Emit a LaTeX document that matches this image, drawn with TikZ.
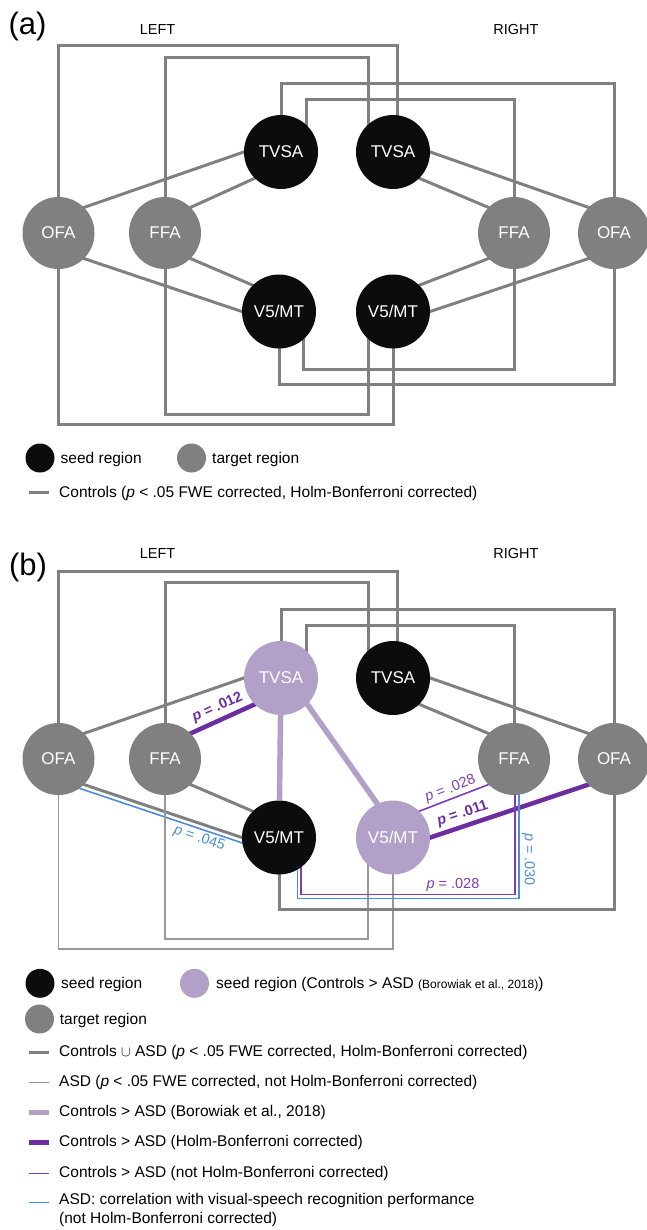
\documentclass[tikz,border=0pt]{standalone}
\usepackage{fontspec}
\setmainfont{Liberation Sans}
\usetikzlibrary{calc,backgrounds}

\definecolor{seedblack}{RGB}{12,12,12}
\definecolor{targetgray}{RGB}{128,128,128}
\definecolor{lavender}{RGB}{177,160,200}
\definecolor{edgegray}{RGB}{128,128,128}
\definecolor{asdgray}{RGB}{152,152,152}
\definecolor{hbpurple}{RGB}{108,45,160}
\definecolor{nhbpurple}{RGB}{125,60,185}
\definecolor{corrblue}{RGB}{75,142,215}

\tikzset{
  region/.style={circle, inner sep=0pt, text=white, font=\fontsize{17}{20}\selectfont},
  seedregion/.style={region, fill=seedblack, minimum size=74pt},
  lavregion/.style={region, fill=lavender, minimum size=74pt},
  targetregion/.style={region, fill=targetgray, minimum size=72pt},
  legdot/.style={circle, inner sep=0pt, minimum size=29pt},
  tuck/.style={shorten <=-3pt, shorten >=-3pt},
  ctrl/.style={draw=edgegray, line width=3pt},
  asd/.style={draw=asdgray, line width=1.6pt},
  borow/.style={draw=lavender, line width=5.5pt},
  hbline/.style={draw=hbpurple, line width=4.5pt},
  nhbline/.style={draw=nhbpurple, line width=1.6pt},
  corrline/.style={draw=corrblue, line width=1.6pt},
  side/.style={font=\fontsize{14.5}{17}\selectfont},
  panel/.style={font=\fontsize{31}{36}\selectfont},
  legtext/.style={anchor=west, inner sep=0pt, font=\fontsize{15.5}{18.4}\selectfont},
  plabel/.style={font=\fontsize{14.5}{16}\selectfont, inner sep=2pt},
}

\begin{document}
\begin{tikzpicture}[x=1pt,y=-1pt]
\useasboundingbox (0,0) rectangle (646,1230);

% ================= panel (a) =================
\node[panel] (aTag) at (27.5,26) {(a)};
\node[side] (aLeft) at (157.5,29.5) {LEFT};
\node[side] (aRight) at (516,29.5) {RIGHT};

\node[targetregion] (aOFAL) at (58.5,233) {OFA};
\node[targetregion] (aFFAL) at (165,233) {FFA};
\node[seedregion] (aTVSAL) at (281,152) {TVSA};
\node[seedregion] (aTVSAR) at (393,152) {TVSA};
\node[seedregion] (aV5L) at (279,311.5) {V5/MT};
\node[seedregion] (aV5R) at (393,311.5) {V5/MT};
\node[targetregion] (aFFAR) at (514,233) {FFA};
\node[targetregion] (aOFAR) at (614,233) {OFA};

% attachment points of the looping connectors
\coordinate (aTVSARo) at ($(aTVSAR.center)+(4,0)$);
\coordinate (aTVSARi) at ($(aTVSAR.center)+(-25,0)$);
\coordinate (aTVSALi) at ($(aTVSAL.center)+(25,0)$);
\coordinate (aV5Ri) at ($(aV5R.center)+(-25,0)$);
\coordinate (aV5Li) at ($(aV5L.center)+(24,0)$);
% heights of the horizontal runs
\coordinate (aT1) at (0,45.7);
\coordinate (aT2) at (0,57.3);
\coordinate (aT3) at (0,84);
\coordinate (aT4) at (0,99.3);
\coordinate (aB1) at (0,424);
\coordinate (aB2) at (0,414.3);
\coordinate (aB3) at (0,384.3);
\coordinate (aB4) at (0,369);

\begin{scope}[on background layer]
  \draw[ctrl,tuck] (aOFAL.45) -- (aTVSAL.west);
  \draw[ctrl,tuck] (aFFAL.45) -- (aTVSAL.-135);
  \draw[ctrl,tuck] (aOFAL.-45) -- (aV5L.west);
  \draw[ctrl,tuck] (aFFAL.-45) -- (aV5L.135);
  \draw[ctrl,tuck] (aTVSAR.east) -- (aOFAR.135);
  \draw[ctrl,tuck] (aTVSAR.-45) -- (aFFAR.135);
  \draw[ctrl,tuck] (aV5R.45) -- (aFFAR.-135);
  \draw[ctrl,tuck] (aV5R.east) -- (aOFAR.-135);
  \draw[ctrl] (aOFAL.center) |- (aTVSARo |- aT1) -- (aTVSARo);
  \draw[ctrl] (aFFAL.center) |- (aTVSARi |- aT2) -- (aTVSARi);
  \draw[ctrl] (aTVSAL.center) |- (aOFAR.center |- aT3) -- (aOFAR.center);
  \draw[ctrl] (aTVSALi) |- (aFFAR.center |- aT4) -- (aFFAR.center);
  \draw[ctrl] (aOFAL.center) |- (aV5R.center |- aB1) -- (aV5R.center);
  \draw[ctrl] (aFFAL.center) |- (aV5Ri |- aB2) -- (aV5Ri);
  \draw[ctrl] (aV5L.center) |- (aOFAR.center |- aB3) -- (aOFAR.center);
  \draw[ctrl] (aV5Li) |- (aFFAR.center |- aB4) -- (aFFAR.center);
\end{scope}

% key of panel (a)
\node[legdot, fill=seedblack] (aKeySeed) at (40,458) {};
\node[legtext] (aKeySeedTxt) at (60.5,459.5) {seed region};
\node[legdot, fill=targetgray] (aKeyTarget) at (191.5,458) {};
\node[legtext] (aKeyTargetTxt) at (212,459.5) {target region};
\coordinate (aKeyS1) at (28.5,492);
\coordinate (aKeyS2) at (49,492);
\draw[ctrl] (aKeyS1) -- (aKeyS2);
\node[legtext] (aKeyCtrl) at (59,493) {Controls (\textit{p} < .05 FWE corrected, Holm-Bonferroni corrected)};

% ================= panel (b) =================
\node[panel] (bTag) at (28,567.5) {(b)};
\node[side] (bLeft) at (157.5,554) {LEFT};
\node[side] (bRight) at (516,554) {RIGHT};

\node[targetregion] (bOFAL) at (58.5,759) {OFA};
\node[targetregion] (bFFAL) at (165,759) {FFA};
\node[lavregion] (bTVSAL) at (281,678) {TVSA};
\node[seedregion] (bTVSAR) at (393,678) {TVSA};
\node[seedregion] (bV5L) at (279,837.5) {V5/MT};
\node[lavregion] (bV5R) at (393,837.5) {V5/MT};
\node[targetregion] (bFFAR) at (514,759) {FFA};
\node[targetregion] (bOFAR) at (614,759) {OFA};

\coordinate (bTVSARo) at ($(bTVSAR.center)+(4,0)$);
\coordinate (bTVSARi) at ($(bTVSAR.center)+(-25,0)$);
\coordinate (bTVSALi) at ($(bTVSAL.center)+(25,0)$);
\coordinate (bV5Ri) at ($(bV5R.center)+(-25,0)$);
\coordinate (bV5Lp) at ($(bV5L.center)+(22,0)$);
\coordinate (bFFARp) at ($(bFFAR.center)+(1,0)$);
\coordinate (bV5Lc) at ($(bV5L.center)+(18.5,0)$);
\coordinate (bFFARc) at ($(bFFAR.center)+(5,0)$);
\coordinate (bT1) at (0,571.7);
\coordinate (bT2) at (0,582.5);
\coordinate (bT3) at (0,609.5);
\coordinate (bT4) at (0,625);
\coordinate (bB1) at (0,949);
\coordinate (bB2) at (0,939);
\coordinate (bB3) at (0,909.5);
\coordinate (bYp) at (0,894.3);
\coordinate (bYc) at (0,898.5);
% blue run parallel to the OFA--V5/MT connector
\coordinate (bCorrA) at ($(bOFAL.-45)!5pt!-90:(bV5L.west)$);
\coordinate (bCorrB) at ($(bV5L.west)!5pt!90:(bOFAL.-45)$);

\begin{scope}[on background layer]
  \draw[ctrl,tuck] (bOFAL.45) -- (bTVSAL.west);
  \draw[hbline,tuck] (bFFAL.45) -- node[midway, above, sloped, plabel, inner sep=3.5pt, text=hbpurple] (bP012) {\textbf{\textit{p} = .012}} (bTVSAL.-135);
  \draw[ctrl,tuck] (bOFAL.-45) -- (bV5L.west);
  \draw[corrline, shorten <=-10pt, shorten >=-3pt] (bCorrA) -- node[pos=0.76, below, sloped, plabel, text=corrblue] (bP045) {\textit{p} = .045} (bCorrB);
  \draw[ctrl,tuck] (bFFAL.-45) -- (bV5L.135);
  \draw[borow] (bTVSAL) -- (bV5L);
  \draw[borow,tuck] (bTVSAL.-45) -- (bV5R.115);
  \draw[ctrl,tuck] (bTVSAR.east) -- (bOFAR.135);
  \draw[ctrl,tuck] (bTVSAR.-45) -- (bFFAR.135);
  \draw[nhbline,tuck] (bV5R.45) -- node[midway, above, sloped, plabel, text=nhbpurple] (bP028a) {\textit{p} = .028} (bFFAR.-135);
  \draw[hbline,tuck] (bV5R.east) -- node[pos=0.23, above, sloped, plabel, inner sep=3.5pt, text=hbpurple] (bP011) {\textbf{\textit{p} = .011}} (bOFAR.-135);
  \draw[ctrl] (bOFAL.center) |- (bTVSARo |- bT1) -- (bTVSARo);
  \draw[ctrl] (bFFAL.center) |- (bTVSARi |- bT2) -- (bTVSARi);
  \draw[ctrl] (bTVSAL.center) |- (bOFAR.center |- bT3) -- (bOFAR.center);
  \draw[ctrl] (bTVSALi) |- (bFFAR.center |- bT4) -- (bFFAR.center);
  \draw[asd] (bOFAL.center) |- (bV5R.center |- bB1) -- (bV5R.center);
  \draw[asd] (bFFAL.center) |- (bV5Ri |- bB2) -- (bV5Ri);
  \draw[ctrl] (bV5L.center) |- (bOFAR.center |- bB3) -- (bOFAR.center);
  \draw[corrline] (bV5Lc) |- (bFFARc |- bYc) -- node[pos=0.28, rotate=-90, anchor=south, plabel, text=corrblue] (bP030) {\textit{p} = .030} (bFFARc);
  \draw[nhbline] (bV5Lp) |- node[pos=0.855, above, plabel, text=nhbpurple] (bP028b) {\textit{p} = .028} (bFFARp |- bYp) -- (bFFARp);
\end{scope}

% key of panel (b)
\node[legdot, fill=seedblack] (bKeySeed) at (40,983.3) {};
\node[legtext] (bKeySeedTxt) at (61,984.5) {seed region};
\node[legdot, fill=lavender] (bKeyLav) at (194.5,983.3) {};
\node[legtext] (bKeyLavTxt) at (216,984.5) {seed region (Controls > ASD {\fontsize{12}{14}\selectfont(Borowiak et al., 2018)})};
\node[legdot, fill=targetgray] (bKeyTarget) at (39.5,1019) {};
\node[legtext] (bKeyTargetTxt) at (59.7,1020) {target region};

\coordinate (bK1a) at (28.5,1052.3); \coordinate (bK1b) at (49,1052.3);
\coordinate (bK2a) at (28.5,1082.3); \coordinate (bK2b) at (49,1082.3);
\coordinate (bK3a) at (28.5,1112.3); \coordinate (bK3b) at (49,1112.3);
\coordinate (bK4a) at (28.5,1142.3); \coordinate (bK4b) at (49,1142.3);
\coordinate (bK5a) at (28.5,1173.3); \coordinate (bK5b) at (49,1173.3);
\coordinate (bK6a) at (28.5,1202.3); \coordinate (bK6b) at (49,1202.3);
\draw[ctrl] (bK1a) -- (bK1b);
\draw[asd] (bK2a) -- (bK2b);
\draw[borow] (bK3a) -- (bK3b);
\draw[hbline] (bK4a) -- (bK4b);
\draw[nhbline] (bK5a) -- (bK5b);
\draw[corrline] (bK6a) -- (bK6b);
\node[legtext] (bKey1) at (59,1052.3) {Controls $\cup$ ASD (\textit{p} < .05 FWE corrected, Holm-Bonferroni corrected)};
\node[legtext] (bKey2) at (59,1082.3) {ASD (\textit{p} < .05 FWE corrected, not Holm-Bonferroni corrected)};
\node[legtext] (bKey3) at (59,1112.3) {Controls > ASD (Borowiak et al., 2018)};
\node[legtext] (bKey4) at (59,1142.3) {Controls > ASD (Holm-Bonferroni corrected)};
\node[legtext] (bKey5) at (59,1173.3) {Controls > ASD (not Holm-Bonferroni corrected)};
\node[legtext, align=left, anchor=north west] (bKey6) at (59,1193.5) {ASD: correlation with visual-speech recognition performance\\(not Holm-Bonferroni corrected)};
\end{tikzpicture}
\end{document}
